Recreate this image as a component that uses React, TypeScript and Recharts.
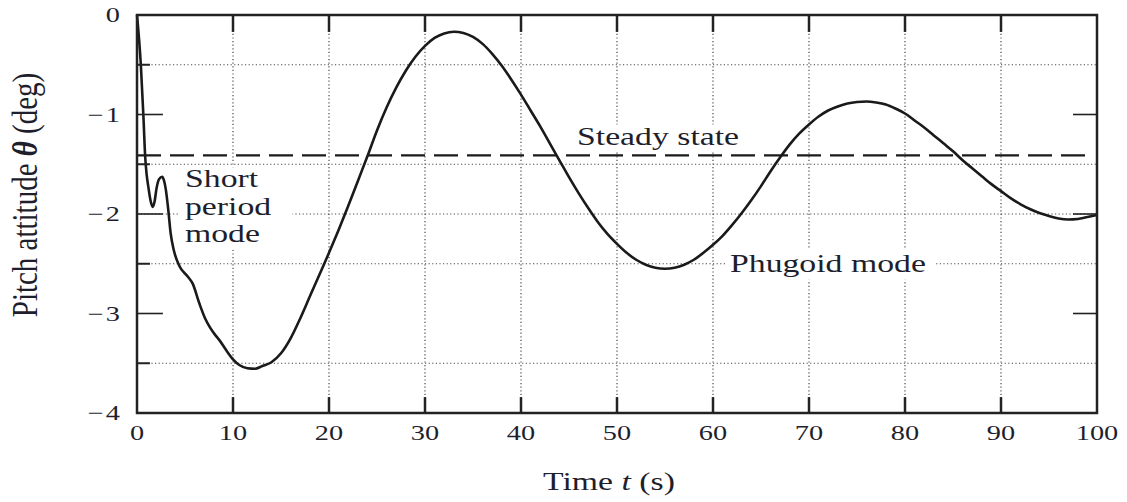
import { LineChart, Line, XAxis, YAxis, ReferenceLine, ReferenceArea, Label } from "recharts";

// pitch attitude response to an elevator step: time (s) and theta (deg)
const timeS = [
  0, 0.4, 0.66, 0.85, 1.0, 1.17, 1.42, 1.63, 1.82, 2.04, 2.3, 2.63, 2.8, 2.98, 3.26, 3.5, 3.85,
  4.4, 5.3, 5.8, 6.5, 7.1, 7.6, 8.1, 8.6, 9.3, 10, 10.7, 11.5, 12.3, 13, 14, 15, 16, 17, 18, 19,
  20, 21, 22, 23, 24, 25, 26, 27, 28, 29, 30, 31, 32, 33, 34, 35, 36, 37, 38, 39, 40, 41, 42, 43,
  44, 45, 46, 47, 48, 49, 50, 51, 52, 53, 54, 55, 56, 57, 58, 59, 60, 61, 62, 63, 64, 65, 66, 67,
  68, 69, 70, 71, 72, 73, 74, 75, 76, 77, 78, 79, 80, 81, 82, 83, 84, 85, 86, 87, 88, 89, 90, 91,
  92, 93, 94, 95, 96, 97, 98, 99, 100,
];
const pitchDeg = [
  0, -0.5, -1.0, -1.42, -1.6, -1.72, -1.87, -1.93, -1.88, -1.74, -1.65, -1.625, -1.66, -1.74,
  -1.96, -2.19, -2.37, -2.52, -2.63, -2.7, -2.9, -3.05, -3.14, -3.21, -3.27, -3.37, -3.46, -3.52,
  -3.55, -3.555, -3.53, -3.49, -3.4, -3.25, -3.05, -2.83, -2.61, -2.39, -2.16, -1.92, -1.67,
  -1.42, -1.16, -0.93, -0.73, -0.56, -0.42, -0.31, -0.23, -0.185, -0.168, -0.18, -0.22, -0.29,
  -0.39, -0.51, -0.65, -0.8, -0.96, -1.12, -1.29, -1.46, -1.63, -1.79, -1.94, -2.08, -2.2, -2.3,
  -2.39, -2.46, -2.51, -2.54, -2.55, -2.54, -2.51, -2.46, -2.39, -2.31, -2.22, -2.11, -1.99,
  -1.86, -1.72, -1.57, -1.43, -1.3, -1.19, -1.1, -1.02, -0.96, -0.92, -0.89, -0.875, -0.87,
  -0.88, -0.9, -0.94, -0.99, -1.06, -1.13, -1.21, -1.29, -1.37, -1.46, -1.54, -1.62, -1.7,
  -1.77, -1.84, -1.9, -1.95, -1.99, -2.02, -2.045, -2.055, -2.05, -2.03, -2.01,
];
const steadyState = -1.41;

const xTicks = [0, 10, 20, 30, 40, 50, 60, 70, 80, 90, 100];
const yTicks = [0, -1, -2, -3, -4];
const gridX = [10, 20, 30, 40, 50, 60, 70, 80, 90];
const gridY = [-0.5, -1.5, -2, -2.5, -3.5];
const majorY = [-1, -2, -3];
const minorY = [-0.5, -1.5, -2.5, -3.5];

const data = timeS.map((t, i) => ({ t, theta: pitchDeg[i] }));

const FONT = "'Liberation Serif', 'DejaVu Serif', serif";
const INK = "#1e1e2c";
const SX = 1.35; // glyphs are drawn wide

type STextProps = {
  x: number;
  y: number;
  size: number;
  anchor?: "start" | "middle" | "end";
  rotate?: boolean;
  children: React.ReactNode;
};

const SText = ({ x, y, size, anchor = "start", rotate = false, children }: STextProps) => (
  <text
    transform={`translate(${x},${y}) scale(${rotate ? 1.2 : SX},1)${rotate ? " rotate(-90)" : ""}`}
    x={0}
    y={0}
    fontSize={size}
    fontFamily={FONT}
    fill={INK}
    textAnchor={anchor}
  >
    {children}
  </text>
);

const fmt = (v: number) => (v < 0 ? "\u2212\u200A" + Math.abs(v) : String(v));

const XTick = (p: any) => (
  <SText x={p.x} y={p.y} size={21} anchor="middle">
    {fmt(p.payload.value)}
  </SText>
);

const YTick = (p: any) => (
  <SText x={p.x} y={p.y + 7} size={21} anchor="end">
    {fmt(p.payload.value)}
  </SText>
);

const App = () => {
  return (
    <div style={{ position: "absolute", left: 0, top: 0, background: "#fff" }}>
      <LineChart
        width={1127}
        height={502}
        data={data}
        margin={{ top: 15, right: 30, bottom: 0, left: 0 }}
      >
        <XAxis
          dataKey="t"
          type="number"
          domain={[0, 100]}
          ticks={xTicks}
          axisLine={false}
          tickLine={false}
          tickSize={0}
          tickMargin={27}
          height={89}
          tick={XTick}
        >
          <Label
            content={() => (
              <SText x={609} y={490} size={25} anchor="middle">
                Time <tspan fontStyle="italic">t</tspan> (s)
              </SText>
            )}
          />
        </XAxis>
        <YAxis
          type="number"
          domain={[-4, 0]}
          ticks={yTicks}
          axisLine={false}
          tickLine={false}
          tickSize={0}
          tickMargin={17}
          width={137}
          tick={YTick}
        >
          <Label
            content={() => (
              <SText x={37} y={195} size={29} anchor="middle" rotate>
                Pitch attitude <tspan fontStyle="italic" fontWeight="bold">θ</tspan> (deg)
              </SText>
            )}
          />
        </YAxis>

        {/* dotted grid */}
        {gridX.map((v) => (
          <ReferenceLine key={"gx" + v} x={v} stroke="#4a4a4a" strokeWidth={1.2} strokeDasharray="1.2 2.4" zIndex={10} />
        ))}
        {gridY.map((v) => (
          <ReferenceLine key={"gy" + v} y={v} stroke="#4a4a4a" strokeWidth={1.2} strokeDasharray="1.2 2.4" zIndex={10} />
        ))}

        {/* white boxes behind the annotations */}
        <ReferenceArea
          x1={4.3}
          x2={16.2}
          y1={-2.36}
          y2={-1.53}
          fill="#fff"
          fillOpacity={1}
          stroke="none"
          zIndex={20}
          label={{
            content: () => (
              <g>
                <SText x={185} y={187} size={25}>Short</SText>
                <SText x={185} y={215} size={25}>period</SText>
                <SText x={185} y={242} size={25}>mode</SText>
              </g>
            ),
          }}
        />
        <ReferenceArea
          x1={45.5}
          x2={63.2}
          y1={-1.37}
          y2={-1.1}
          fill="#fff"
          fillOpacity={1}
          stroke="none"
          zIndex={20}
          label={{ content: () => <SText x={577} y={145} size={25}>Steady state</SText> }}
        />
        <ReferenceArea
          x1={61.3}
          x2={83.2}
          y1={-2.66}
          y2={-2.35}
          fill="#fff"
          fillOpacity={1}
          stroke="none"
          zIndex={20}
          label={{ content: () => <SText x={730} y={272} size={25}>Phugoid mode</SText> }}
        />

        {/* frame and inner ticks */}
        <ReferenceArea x1={0} x2={100} y1={-4} y2={0} fill="none" stroke="#222" strokeWidth={2.5} zIndex={450} />
        {gridX.map((v) => (
          <ReferenceLine key={"bt" + v} segment={[{ x: v, y: -4 }, { x: v, y: -3.84 }]} stroke="#222" strokeWidth={2.5} zIndex={450} />
        ))}
        {gridX.map((v) => (
          <ReferenceLine key={"tt" + v} segment={[{ x: v, y: 0 }, { x: v, y: -0.17 }]} stroke="#222" strokeWidth={2.5} zIndex={450} />
        ))}
        {majorY.map((v) => (
          <ReferenceLine key={"lm" + v} segment={[{ x: 0, y: v }, { x: 2.7, y: v }]} stroke="#222" strokeWidth={1.6} zIndex={450} />
        ))}
        {minorY.map((v) => (
          <ReferenceLine key={"ln" + v} segment={[{ x: 0, y: v }, { x: 1.35, y: v }]} stroke="#222" strokeWidth={2} zIndex={450} />
        ))}
        {majorY.map((v) => (
          <ReferenceLine key={"rm" + v} segment={[{ x: 97.5, y: v }, { x: 100, y: v }]} stroke="#222" strokeWidth={1.6} zIndex={450} />
        ))}

        {/* steady-state level */}
        <ReferenceLine
          segment={[{ x: 0, y: steadyState }, { x: 99.3, y: steadyState }]}
          stroke="#1a1a1a"
          strokeWidth={2.2}
          strokeDasharray="24 9"
          zIndex={420}
        />

        <Line
          dataKey="theta"
          type="monotone"
          stroke="#1a1a1a"
          strokeWidth={2.6}
          dot={false}
          isAnimationActive={false}
        />
      </LineChart>
    </div>
  );
};

export default App;
